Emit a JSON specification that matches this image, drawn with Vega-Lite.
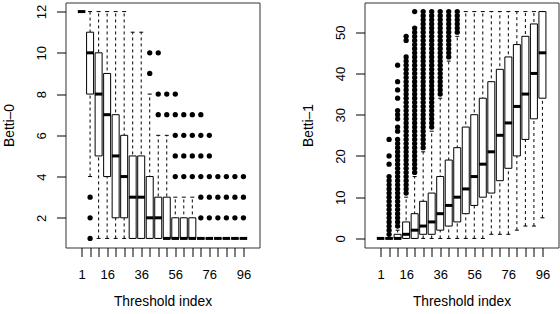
{
  "$schema": "https://vega.github.io/schema/vega-lite/v6.json",
  "padding": {"left": 1.5, "top": 1.5, "right": 0, "bottom": 0},
  "autosize": {"type": "pad"},
  "background": "white",
  "datasets": {
    "s0": [
      {"idx": 1, "lo": 12, "q1": 12, "med": 12, "q3": 12, "hi": 12},
      {"idx": 6, "lo": 4, "q1": 8, "med": 10, "q3": 11, "hi": 12},
      {"idx": 11, "lo": 1, "q1": 5, "med": 8, "q3": 10, "hi": 12},
      {"idx": 16, "lo": 1, "q1": 4, "med": 7, "q3": 9, "hi": 12},
      {"idx": 21, "lo": 1, "q1": 2, "med": 5, "q3": 7, "hi": 12},
      {"idx": 26, "lo": 1, "q1": 2, "med": 4, "q3": 6, "hi": 12},
      {"idx": 31, "lo": 1, "q1": 1, "med": 3, "q3": 5, "hi": 11},
      {"idx": 36, "lo": 1, "q1": 1, "med": 3, "q3": 5, "hi": 11},
      {"idx": 41, "lo": 1, "q1": 1, "med": 2, "q3": 4, "hi": 8},
      {"idx": 46, "lo": 1, "q1": 1, "med": 2, "q3": 3, "hi": 6},
      {"idx": 51, "lo": 1, "q1": 1, "med": 1, "q3": 3, "hi": 6},
      {"idx": 56, "lo": 1, "q1": 1, "med": 1, "q3": 2, "hi": 3},
      {"idx": 61, "lo": 1, "q1": 1, "med": 1, "q3": 2, "hi": 3},
      {"idx": 66, "lo": 1, "q1": 1, "med": 1, "q3": 2, "hi": 3},
      {"idx": 71, "lo": 1, "q1": 1, "med": 1, "q3": 1, "hi": 1},
      {"idx": 76, "lo": 1, "q1": 1, "med": 1, "q3": 1, "hi": 1},
      {"idx": 81, "lo": 1, "q1": 1, "med": 1, "q3": 1, "hi": 1},
      {"idx": 86, "lo": 1, "q1": 1, "med": 1, "q3": 1, "hi": 1},
      {"idx": 91, "lo": 1, "q1": 1, "med": 1, "q3": 1, "hi": 1},
      {"idx": 96, "lo": 1, "q1": 1, "med": 1, "q3": 1, "hi": 1}
    ],
    "o0": [
      {"idx": 6, "v": [1, 2, 3]},
      {"idx": 41, "v": [9, 10]},
      {"idx": 46, "v": [7, 8, 10]},
      {"idx": 51, "v": [7, 8]},
      {"idx": 56, "v": [4, 5, 6, 7, 8]},
      {"idx": 61, "v": [4, 5, 6, 7]},
      {"idx": 66, "v": [4, 5, 6, 7]},
      {"idx": 71, "v": [2, 3, 4, 5, 6, 7]},
      {"idx": 76, "v": [2, 3, 4, 5, 6]},
      {"idx": 81, "v": [2, 3, 4]},
      {"idx": 86, "v": [2, 3, 4]},
      {"idx": 91, "v": [2, 3, 4]},
      {"idx": 96, "v": [2, 3, 4]}
    ],
    "s1": [
      {"idx": 1, "lo": 0, "q1": 0, "med": 0, "q3": 0, "hi": 0},
      {"idx": 6, "lo": 0, "q1": 0, "med": 0, "q3": 0, "hi": 0},
      {"idx": 11, "lo": 0, "q1": 0, "med": 0, "q3": 1, "hi": 2},
      {"idx": 16, "lo": 0, "q1": 0, "med": 1, "q3": 4, "hi": 10},
      {"idx": 21, "lo": 0, "q1": 0, "med": 2, "q3": 6, "hi": 15},
      {"idx": 26, "lo": 0, "q1": 1, "med": 3, "q3": 9, "hi": 21},
      {"idx": 31, "lo": 0, "q1": 1, "med": 4, "q3": 11, "hi": 26},
      {"idx": 36, "lo": 0, "q1": 2, "med": 6, "q3": 15, "hi": 34},
      {"idx": 41, "lo": 0, "q1": 3, "med": 8, "q3": 19, "hi": 43},
      {"idx": 46, "lo": 0, "q1": 4, "med": 10, "q3": 22, "hi": 49},
      {"idx": 51, "lo": 0, "q1": 6, "med": 12, "q3": 27, "hi": 55},
      {"idx": 56, "lo": 0, "q1": 8, "med": 15, "q3": 30, "hi": 55},
      {"idx": 61, "lo": 0, "q1": 10, "med": 18, "q3": 34, "hi": 55},
      {"idx": 66, "lo": 1, "q1": 11, "med": 21, "q3": 38, "hi": 55},
      {"idx": 71, "lo": 1, "q1": 14, "med": 25, "q3": 41, "hi": 55},
      {"idx": 76, "lo": 1, "q1": 17, "med": 28, "q3": 44, "hi": 55},
      {"idx": 81, "lo": 2, "q1": 20, "med": 32, "q3": 47, "hi": 55},
      {"idx": 86, "lo": 3, "q1": 24, "med": 35, "q3": 49, "hi": 55},
      {"idx": 91, "lo": 3, "q1": 29, "med": 40, "q3": 52, "hi": 55},
      {"idx": 96, "lo": 5, "q1": 34, "med": 45, "q3": 55, "hi": 55}
    ],
    "o1": [
      {"idx": 6, "v": [1, 2, 3, 4, 5, 6, 7, 8, 9, 10, 11, 12, 13, 14, 15, 18, 20, 24]},
      {"idx": 11, "v": [3, 4, 5, 6, 7, 8, 9, 10, 11, 12, 13, 14, 15, 16, 17, 18, 19, 20, 21, 22, 23, 24, 26, 27, 29, 30, 31, 34, 36, 38, 42]},
      {"idx": 16, "v": [11, 12, 13, 14, 15, 16, 17, 18, 19, 20, 21, 22, 23, 24, 25, 26, 27, 28, 29, 30, 31, 32, 33, 34, 35, 36, 37, 38, 39, 40, 41, 42, 43, 44, 48, 49]},
      {"idx": 21, "v": [16, 17, 18, 19, 20, 21, 22, 23, 24, 25, 26, 27, 28, 29, 30, 31, 32, 33, 34, 35, 36, 37, 38, 39, 40, 41, 42, 43, 44, 45, 46, 47, 48, 49, 50, 51, 55]},
      {"idx": 26, "v": [22, 23, 24, 25, 26, 27, 28, 29, 30, 31, 32, 33, 34, 35, 36, 37, 38, 39, 40, 41, 42, 43, 44, 45, 46, 47, 48, 49, 50, 51, 52, 53, 54, 55]},
      {"idx": 31, "v": [27, 28, 29, 30, 31, 32, 33, 34, 35, 36, 37, 38, 39, 40, 41, 42, 43, 44, 45, 46, 47, 48, 49, 50, 51, 52, 53, 54, 55]},
      {"idx": 36, "v": [35, 36, 37, 38, 39, 40, 41, 42, 43, 44, 45, 46, 47, 48, 49, 50, 51, 52, 53, 54, 55]},
      {"idx": 41, "v": [44, 45, 46, 47, 48, 49, 50, 51, 52, 53, 54, 55]},
      {"idx": 46, "v": [50, 51, 52, 53, 54, 55]}
    ]
  },
  "hconcat": [
    {
      "width": 194,
      "height": 245,
      "encoding": {
        "x": {
          "field": "idx", "type": "quantitative", "title": "Threshold index",
          "scale": {"domain": [-5.5, 102.5], "nice": false, "zero": false},
          "axis": {
            "values": [1, 6, 11, 16, 21, 26, 31, 36, 41, 46, 51, 56, 61, 66, 71, 76, 81, 86, 91, 96],
            "labelExpr": "indexof([1,16,36,56,76,96], datum.value) >= 0 ? datum.label : ''",
            "labelBaseline": "middle", "labelPadding": 17.5, "labelFlush": false, "labelOverlap": false,
            "titleX": 97, "titleY": 54, "titleAlign": "center", "titleBaseline": "middle"
          }
        }
      },
      "layer": [
        {
          "data": {"name": "s0"},
          "mark": {"type": "rule", "color": "black", "strokeWidth": 1, "strokeDash": [3, 3]},
          "encoding": {
            "y": {
              "field": "lo", "type": "quantitative", "title": "Betti–0",
              "scale": {"domain": [0.56, 12.44], "nice": false, "zero": false},
              "axis": {
                "values": [2, 4, 6, 8, 10, 12],
                "labelAngle": 270, "labelAlign": "center", "labelBaseline": "middle", "labelPadding": 15,
                "titleX": -56, "titleY": 122.5, "titleAngle": 270, "titleAlign": "center", "titleBaseline": "middle"
              }
            },
            "y2": {"field": "hi"}
          }
        },
        {
          "data": {"name": "s0"},
          "mark": {"type": "tick", "orient": "horizontal", "size": 4, "thickness": 1, "color": "black", "opacity": 1},
          "encoding": {"y": {"field": "hi", "type": "quantitative", "title": "Betti–0", "scale": {"domain": [0.56, 12.44], "nice": false, "zero": false}}}
        },
        {
          "data": {"name": "s0"},
          "mark": {"type": "tick", "orient": "horizontal", "size": 4, "thickness": 1, "color": "black", "opacity": 1},
          "encoding": {"y": {"field": "lo", "type": "quantitative", "title": "Betti–0", "scale": {"domain": [0.56, 12.44], "nice": false, "zero": false}}}
        },
        {
          "data": {"name": "s0"},
          "mark": {"type": "bar", "size": 7, "fill": "white", "stroke": "black", "strokeWidth": 1},
          "encoding": {
            "y": {"field": "q1", "type": "quantitative", "title": "Betti–0", "scale": {"domain": [0.56, 12.44], "nice": false, "zero": false}},
            "y2": {"field": "q3"}
          }
        },
        {
          "data": {"name": "s0"},
          "mark": {"type": "tick", "orient": "horizontal", "size": 7.5, "thickness": 3, "color": "black", "opacity": 1},
          "encoding": {"y": {"field": "med", "type": "quantitative", "title": "Betti–0", "scale": {"domain": [0.56, 12.44], "nice": false, "zero": false}}}
        },
        {
          "data": {"name": "o0"},
          "transform": [{"flatten": ["v"]}],
          "mark": {"type": "circle", "size": 28, "color": "black", "opacity": 1},
          "encoding": {"y": {"field": "v", "type": "quantitative", "title": "Betti–0", "scale": {"domain": [0.56, 12.44], "nice": false, "zero": false}}}
        }
      ]
    },
    {
      "width": 194,
      "height": 245,
      "encoding": {
        "x": {
          "field": "idx", "type": "quantitative", "title": "Threshold index",
          "scale": {"domain": [-5.5, 102.5], "nice": false, "zero": false},
          "axis": {
            "values": [1, 6, 11, 16, 21, 26, 31, 36, 41, 46, 51, 56, 61, 66, 71, 76, 81, 86, 91, 96],
            "labelExpr": "indexof([1,16,36,56,76,96], datum.value) >= 0 ? datum.label : ''",
            "labelBaseline": "middle", "labelPadding": 17.5, "labelFlush": false, "labelOverlap": false,
            "titleX": 97, "titleY": 54, "titleAlign": "center", "titleBaseline": "middle"
          }
        }
      },
      "layer": [
        {
          "data": {"name": "s1"},
          "mark": {"type": "rule", "color": "black", "strokeWidth": 1, "strokeDash": [3, 3]},
          "encoding": {
            "y": {
              "field": "lo", "type": "quantitative", "title": "Betti–1",
              "scale": {"domain": [-2.2, 57.2], "nice": false, "zero": false},
              "axis": {
                "values": [0, 10, 20, 30, 40, 50],
                "labelAngle": 270, "labelAlign": "center", "labelBaseline": "middle", "labelPadding": 15,
                "titleX": -56, "titleY": 122.5, "titleAngle": 270, "titleAlign": "center", "titleBaseline": "middle"
              }
            },
            "y2": {"field": "hi"}
          }
        },
        {
          "data": {"name": "s1"},
          "mark": {"type": "tick", "orient": "horizontal", "size": 4, "thickness": 1, "color": "black", "opacity": 1},
          "encoding": {"y": {"field": "hi", "type": "quantitative", "title": "Betti–1", "scale": {"domain": [-2.2, 57.2], "nice": false, "zero": false}}}
        },
        {
          "data": {"name": "s1"},
          "mark": {"type": "tick", "orient": "horizontal", "size": 4, "thickness": 1, "color": "black", "opacity": 1},
          "encoding": {"y": {"field": "lo", "type": "quantitative", "title": "Betti–1", "scale": {"domain": [-2.2, 57.2], "nice": false, "zero": false}}}
        },
        {
          "data": {"name": "s1"},
          "mark": {"type": "bar", "size": 7, "fill": "white", "stroke": "black", "strokeWidth": 1},
          "encoding": {
            "y": {"field": "q1", "type": "quantitative", "title": "Betti–1", "scale": {"domain": [-2.2, 57.2], "nice": false, "zero": false}},
            "y2": {"field": "q3"}
          }
        },
        {
          "data": {"name": "s1"},
          "mark": {"type": "tick", "orient": "horizontal", "size": 7.5, "thickness": 3, "color": "black", "opacity": 1},
          "encoding": {"y": {"field": "med", "type": "quantitative", "title": "Betti–1", "scale": {"domain": [-2.2, 57.2], "nice": false, "zero": false}}}
        },
        {
          "data": {"name": "o1"},
          "transform": [{"flatten": ["v"]}],
          "mark": {"type": "circle", "size": 28, "color": "black", "opacity": 1},
          "encoding": {"y": {"field": "v", "type": "quantitative", "title": "Betti–1", "scale": {"domain": [-2.2, 57.2], "nice": false, "zero": false}}}
        }
      ]
    }
  ],
  "bounds": "flush",
  "spacing": 105,
  "config": {
    "font": "Liberation Sans",
    "view": {"stroke": "#333", "strokeWidth": 1},
    "axis": {
      "grid": false, "domain": false,
      "tickColor": "#000", "tickSize": 9, "tickWidth": 1,
      "labelColor": "#000", "labelFontSize": 13, "labelFont": "Liberation Sans",
      "titleColor": "#000", "titleFontSize": 13.8, "titleFontWeight": "normal", "titleFont": "Liberation Sans"
    }
  }
}
